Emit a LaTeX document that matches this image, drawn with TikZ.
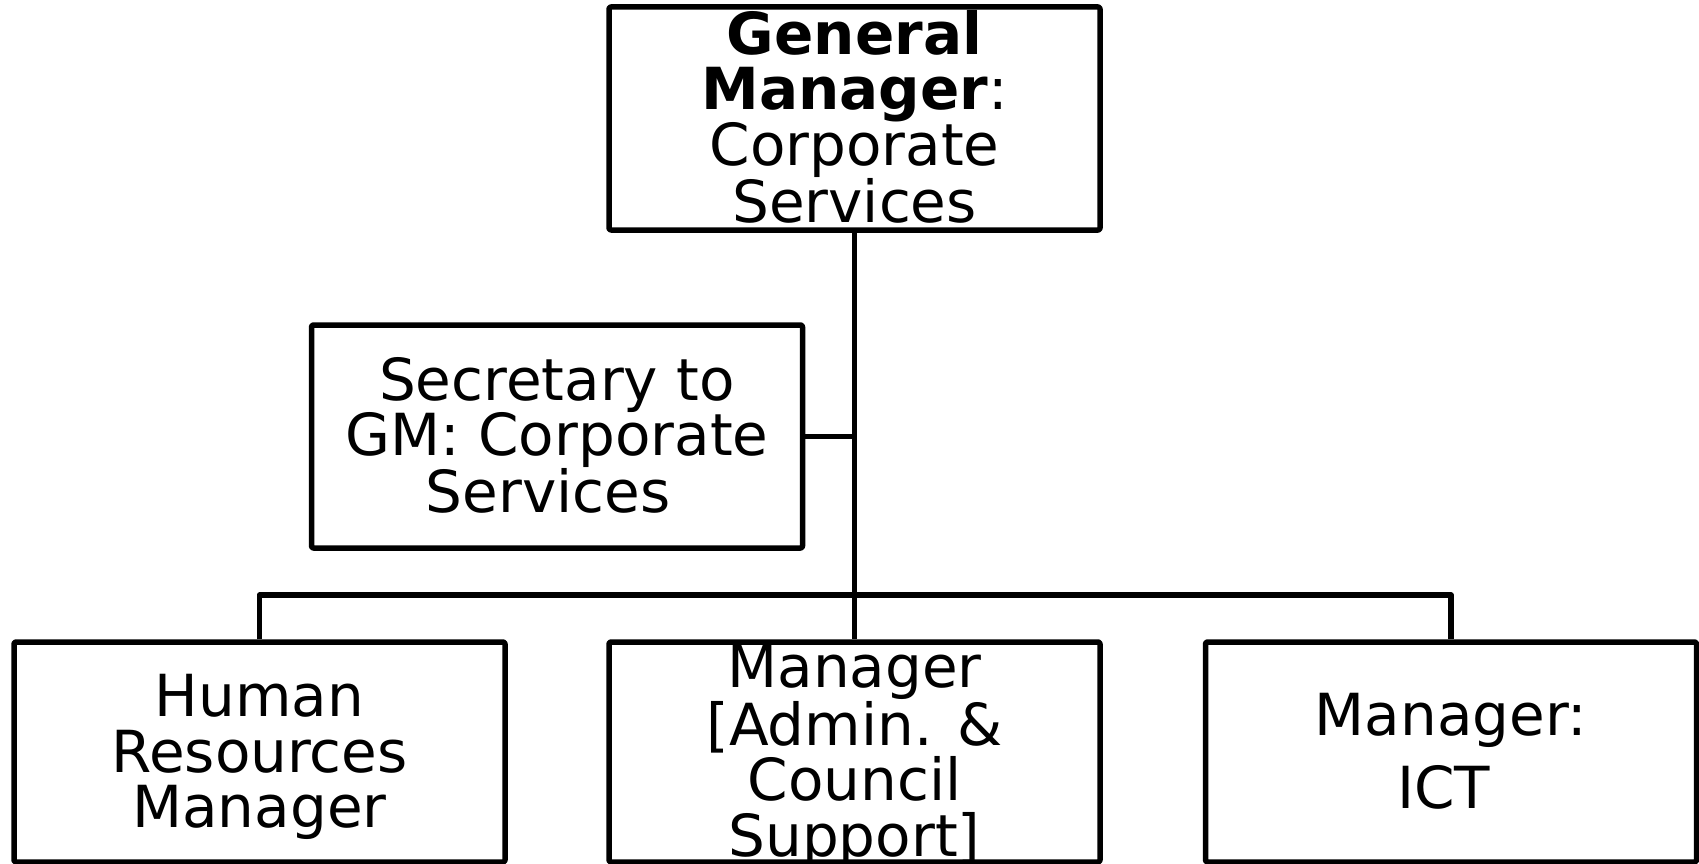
\documentclass[tikz,border=0pt]{standalone}
\usepackage{fontspec}
\setmainfont{DejaVu Sans}
\newcommand\firstln{\rule{0pt}{53.8pt}}
\newcommand\lastln{\rule[-13.7pt]{0pt}{13.7pt}}
\begin{document}
\begin{tikzpicture}[x=1pt,y=-1pt,
  box/.style={draw, line width=5.5pt, rounded corners=2pt, line join=round,
    minimum width=491pt, minimum height=223pt, inner xsep=0pt, inner ysep=-12pt,
    align=center, font=\fontsize{58}{55.6}\selectfont},
  lowbox/.style={box, minimum height=220pt},
  link/.style={line width=5.5pt, line join=round}]
\useasboundingbox (0,0) rectangle (1699,864);
\node[box] (gm)  at (854.5,118.5) {\firstln\textbf{General}\\\textbf{Manager}:\\Corporate\\Services\lastln};
\node[box] (sec) at (557,436.5) {\firstln Secretary to\\GM: Corporate\\Services\hspace*{18pt}\lastln};
\node[lowbox] (hr)  at (259.5,752) {\firstln Human\\Resources\\Manager\lastln};
\node[lowbox] (mid) at (854.5,752) {\firstln Manager\\{[}Admin. \&\\Council\\Support]\lastln};
\node[lowbox] (ict) at (1451,752) {\firstln Manager:\\[18pt]ICT\hspace*{15pt}\lastln};
\coordinate (bus) at (854.5,595);
\draw[link] (gm.south) -- (bus) -- (mid.north);
\draw[link] (sec.east) -- (sec.east -| gm.south);
\draw[link] (hr.north) |- (bus) -| (ict.north);
\end{tikzpicture}
\end{document}
